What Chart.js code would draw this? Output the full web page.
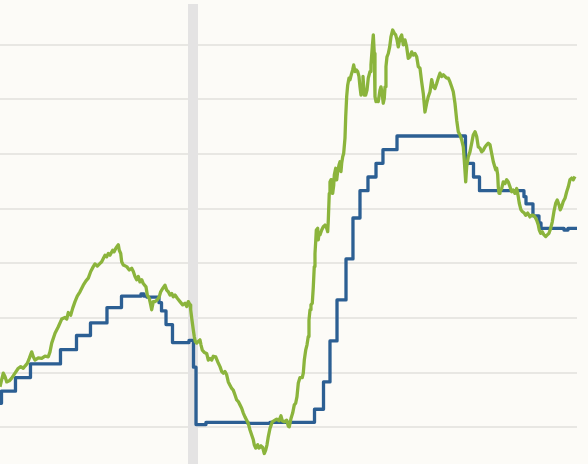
<!DOCTYPE html>
<html>
<head>
<meta charset="utf-8">
<script src="https://cdn.jsdelivr.net/npm/chart.js@4/dist/chart.umd.min.js"></script>
<style>
  html, body { margin: 0; padding: 0; background: #fcfbf7; }
  #wrap { width: 588px; height: 464px; position: relative; }
</style>
</head>
<body>
<div id="wrap"><canvas id="rates"></canvas></div>
<script>
// Policy rate (step series): date where each level starts, level in %
const blueYears = [2016.950, 2016.975, 2017.208, 2017.458, 2017.958, 2018.225, 2018.458, 2018.733, 2018.975,
  2019.300, 2019.350, 2019.400, 2019.600, 2019.642, 2019.717, 2019.825, 2020.100, 2020.175, 2020.217,
  2020.383, 2021.083, 2021.450, 2022.192, 2022.342, 2022.450, 2022.567, 2022.717, 2022.833, 2022.950,
  2023.083, 2023.217, 2023.333, 2023.567, 2024.708, 2024.842, 2024.942, 2025.683, 2025.717, 2025.833,
  2025.933, 2025.967, 2026.350, 2026.417, 2026.567];
const blueRates = [0.44, 0.66, 0.91, 1.16, 1.42, 1.68, 1.91, 2.19, 2.40,
  2.44, 2.40, 2.38, 2.28, 2.13, 1.88, 1.55, 1.59, 1.10, 0.05,
  0.09, 0.07, 0.09, 0.33, 0.83, 1.58, 2.33, 3.08, 3.83, 4.33,
  4.58, 4.83, 5.08, 5.33, 4.83, 4.58, 4.33, 4.22, 4.09, 3.87,
  3.74, 3.64, 3.61, 3.64, 3.64];

// Market yield (green)
const greenYears = [2016.950, 2016.978, 2017.005, 2017.033, 2017.062, 2017.105, 2017.145, 2017.200, 2017.255, 2017.295,
  2017.338, 2017.367, 2017.405, 2017.438, 2017.478, 2017.505, 2017.533, 2017.588, 2017.645, 2017.700,
  2017.755, 2017.783, 2017.812, 2017.867, 2017.922, 2017.978, 2018.033, 2018.062, 2018.088, 2018.128,
  2018.162, 2018.200, 2018.238, 2018.283, 2018.338, 2018.383, 2018.422, 2018.462, 2018.505, 2018.533,
  2018.572, 2018.617, 2018.645, 2018.672, 2018.700, 2018.728, 2018.755, 2018.783, 2018.828, 2018.850,
  2018.883, 2018.922, 2018.938, 2018.962, 2018.978, 2019.005, 2019.062, 2019.105, 2019.145, 2019.172,
  2019.200, 2019.228, 2019.255, 2019.283, 2019.312, 2019.338, 2019.383, 2019.405, 2019.438, 2019.462,
  2019.478, 2019.505, 2019.533, 2019.572, 2019.605, 2019.628, 2019.662, 2019.700, 2019.728, 2019.755,
  2019.783, 2019.812, 2019.838, 2019.867, 2019.905, 2019.950, 2019.995, 2020.033, 2020.062, 2020.088,
  2020.117, 2020.128, 2020.150, 2020.172, 2020.188, 2020.205, 2020.228, 2020.255, 2020.283, 2020.300,
  2020.322, 2020.355, 2020.395, 2020.422, 2020.450, 2020.478, 2020.505, 2020.545, 2020.578, 2020.617,
  2020.645, 2020.672, 2020.700, 2020.728, 2020.755, 2020.783, 2020.812, 2020.838, 2020.867, 2020.895,
  2020.922, 2020.950, 2020.978, 2021.005, 2021.033, 2021.062, 2021.088, 2021.117, 2021.145, 2021.172,
  2021.188, 2021.212, 2021.245, 2021.267, 2021.300, 2021.328, 2021.355, 2021.378, 2021.400, 2021.422,
  2021.450, 2021.488, 2021.533, 2021.562, 2021.600, 2021.633, 2021.655, 2021.688, 2021.728, 2021.755,
  2021.772, 2021.800, 2021.828, 2021.855, 2021.878, 2021.900, 2021.922, 2021.950, 2021.988, 2022.005,
  2022.022, 2022.045, 2022.067, 2022.088, 2022.100, 2022.117, 2022.133, 2022.155, 2022.172, 2022.188,
  2022.200, 2022.212, 2022.222, 2022.245, 2022.255, 2022.267, 2022.283, 2022.312, 2022.338, 2022.367,
  2022.395, 2022.412, 2022.422, 2022.438, 2022.450, 2022.467, 2022.478, 2022.495, 2022.512, 2022.522,
  2022.545, 2022.562, 2022.578, 2022.600, 2022.617, 2022.633, 2022.645, 2022.662, 2022.678, 2022.700,
  2022.712, 2022.728, 2022.745, 2022.767, 2022.783, 2022.812, 2022.828, 2022.845, 2022.867, 2022.888,
  2022.912, 2022.933, 2022.950, 2022.967, 2022.988, 2023.000, 2023.012, 2023.022, 2023.045, 2023.067,
  2023.088, 2023.117, 2023.133, 2023.155, 2023.172, 2023.188, 2023.200, 2023.217, 2023.238, 2023.255,
  2023.283, 2023.300, 2023.322, 2023.338, 2023.355, 2023.367, 2023.383, 2023.400, 2023.422, 2023.445,
  2023.467, 2023.495, 2023.522, 2023.545, 2023.567, 2023.588, 2023.617, 2023.645, 2023.672, 2023.700,
  2023.728, 2023.755, 2023.783, 2023.812, 2023.838, 2023.867, 2023.895, 2023.922, 2023.950, 2023.978,
  2024.005, 2024.033, 2024.062, 2024.088, 2024.117, 2024.145, 2024.172, 2024.200, 2024.228, 2024.255,
  2024.283, 2024.312, 2024.338, 2024.367, 2024.395, 2024.422, 2024.450, 2024.478, 2024.505, 2024.533,
  2024.562, 2024.588, 2024.617, 2024.645, 2024.672, 2024.688, 2024.712, 2024.728, 2024.755, 2024.783,
  2024.812, 2024.838, 2024.867, 2024.895, 2024.922, 2024.950, 2024.978, 2025.005, 2025.033, 2025.062,
  2025.088, 2025.117, 2025.145, 2025.172, 2025.188, 2025.212, 2025.228, 2025.245, 2025.255, 2025.267,
  2025.283, 2025.312, 2025.338, 2025.367, 2025.395, 2025.422, 2025.450, 2025.478, 2025.505, 2025.533,
  2025.562, 2025.588, 2025.605, 2025.633, 2025.655, 2025.688, 2025.712, 2025.745, 2025.783, 2025.812,
  2025.838, 2025.867, 2025.895, 2025.922, 2025.938, 2025.962, 2025.988, 2026.017, 2026.045, 2026.072,
  2026.100, 2026.128, 2026.155, 2026.183, 2026.212, 2026.238, 2026.267, 2026.288, 2026.312, 2026.338,
  2026.367, 2026.395, 2026.422, 2026.450, 2026.478, 2026.505, 2026.533];
const greenYields = [0.74, 0.87, 0.99, 0.93, 0.83, 0.85, 0.90, 0.99, 1.08, 1.11,
  1.08, 1.12, 1.17, 1.26, 1.38, 1.29, 1.23, 1.27, 1.26, 1.30,
  1.29, 1.38, 1.54, 1.72, 1.84, 1.98, 2.01, 1.98, 2.10, 2.05,
  2.18, 2.30, 2.40, 2.48, 2.60, 2.68, 2.73, 2.85, 2.94, 2.99,
  2.95, 3.00, 3.03, 3.09, 3.15, 3.12, 3.18, 3.15, 3.24, 3.21,
  3.28, 3.34, 3.24, 3.18, 3.03, 2.97, 2.94, 2.88, 2.91, 2.85,
  2.76, 2.70, 2.76, 2.66, 2.70, 2.63, 2.57, 2.42, 2.36, 2.24,
  2.15, 2.30, 2.30, 2.33, 2.39, 2.48, 2.54, 2.60, 2.51, 2.48,
  2.42, 2.45, 2.39, 2.42, 2.36, 2.30, 2.24, 2.27, 2.21, 2.30,
  2.24, 2.15, 1.96, 1.78, 1.66, 1.57, 1.54, 1.57, 1.60, 1.51,
  1.41, 1.37, 1.35, 1.23, 1.26, 1.23, 1.30, 1.29, 1.20, 1.11,
  1.02, 0.99, 1.02, 0.96, 0.83, 0.77, 0.71, 0.68, 0.59, 0.50,
  0.47, 0.41, 0.35, 0.26, 0.19, 0.13, 0.07, -0.05, -0.14, -0.23,
  -0.32, -0.38, -0.32, -0.38, -0.34, -0.37, -0.48, -0.42, -0.32, -0.17,
  -0.02, 0.10, 0.13, 0.15, 0.12, 0.21, 0.12, 0.10, 0.13, 0.02,
  0.01, 0.16, 0.26, 0.41, 0.44, 0.56, 0.81, 0.91, 0.91, 0.99,
  1.23, 1.41, 1.51, 1.66, 1.96, 2.15, 2.24, 2.27, 2.57, 2.94,
  3.18, 3.40, 3.61, 3.64, 3.43, 3.55, 3.52, 3.61, 3.67, 3.70,
  3.64, 3.58, 3.79, 4.28, 4.49, 4.53, 4.40, 4.28, 4.43, 4.62,
  4.74, 4.53, 4.68, 4.80, 4.86, 4.68, 4.83, 4.95, 5.01, 5.29,
  5.68, 6.05, 6.26, 6.39, 6.36, 6.48, 6.54, 6.63, 6.51, 6.54,
  6.51, 6.42, 6.23, 6.08, 6.26, 6.42, 6.23, 6.08, 6.08, 6.17,
  6.39, 6.51, 6.63, 6.96, 7.18, 6.84, 6.05, 5.96, 5.99, 5.96,
  6.17, 6.23, 6.08, 5.93, 6.02, 6.23, 6.60, 6.78, 6.84, 6.96,
  7.15, 7.27, 7.21, 7.18, 7.09, 6.96, 7.12, 7.18, 7.00, 7.09,
  6.96, 6.75, 6.78, 6.87, 6.81, 6.84, 6.78, 6.60, 6.57, 6.32,
  6.11, 5.77, 5.93, 6.05, 6.14, 6.36, 6.23, 6.20, 6.29, 6.39,
  6.48, 6.42, 6.45, 6.42, 6.39, 6.39, 6.32, 6.23, 6.14, 5.93,
  5.62, 5.41, 5.35, 5.26, 5.13, 4.89, 4.49, 4.77, 4.95, 5.04,
  5.20, 5.35, 5.41, 5.32, 5.13, 5.11, 5.04, 5.07, 5.13, 5.17,
  5.20, 5.17, 5.01, 4.86, 4.80, 4.71, 4.74, 4.62, 4.40, 4.28,
  4.31, 4.37, 4.49, 4.46, 4.53, 4.49, 4.40, 4.31, 4.34, 4.28,
  4.37, 4.22, 4.10, 3.98, 3.95, 3.92, 3.88, 3.92, 3.85, 3.88,
  3.88, 3.85, 3.79, 3.70, 3.61, 3.55, 3.58, 3.52, 3.49, 3.52,
  3.55, 3.64, 3.76, 3.95, 4.10, 4.16, 4.07, 3.98, 4.04, 4.13,
  4.19, 4.31, 4.40, 4.53, 4.56, 4.53, 4.59];

// horizontal gridlines and the shaded recession period
const gridValues = [0, 1, 2, 3, 4, 5, 6, 7];
const recessionStart = 2020.083;
const recessionEnd = 2020.25;

const toPoints = (xs, ys) => xs.map((x, i) => ({ x: x, y: ys[i] }));

// grey band behind the lines
const recessionBand = {
    id: 'recessionBand',
    beforeDatasetsDraw(chart) {
        const { ctx, chartArea, scales } = chart;
        const x0 = scales.x.getPixelForValue(recessionStart);
        const x1 = scales.x.getPixelForValue(recessionEnd);
        ctx.save();
        ctx.fillStyle = '#e4e3e3';
        ctx.fillRect(x0, chartArea.top, x1 - x0, chartArea.bottom - chartArea.top);
        ctx.restore();
    }
};

new Chart(document.getElementById('rates'), {
    type: 'line',
    data: {
        datasets: [
            {
                label: 'Yield',
                data: toPoints(greenYears, greenYields),
                borderColor: '#8bb43c',
                borderWidth: 3.3,
                pointRadius: 0,
                tension: 0,
                borderJoinStyle: 'round',
                order: 0
            },
            {
                label: 'Policy rate',
                data: toPoints(blueYears, blueRates),
                borderColor: '#2c5f93',
                borderWidth: 3.3,
                pointRadius: 0,
                stepped: 'before',
                borderJoinStyle: 'round',
                order: 1
            }
        ]
    },
    options: {
        responsive: true,
        maintainAspectRatio: false,
        animation: false,
        layout: { padding: { top: 4, right: 11, bottom: 0, left: 0 } },
        plugins: { legend: { display: false }, tooltip: { enabled: false } },
        scales: {
            x: {
                type: 'linear',
                display: false,
                min: 2016.95,
                max: 2026.567
            },
            y: {
                type: 'linear',
                min: -0.672,
                max: 7.746,
                border: { display: false },
                ticks: { display: false },
                grid: { color: '#e8e7e3', lineWidth: 2, drawTicks: false },
                afterBuildTicks: (scale) => {
                    scale.ticks = gridValues.map(v => ({ value: v }));
                }
            }
        }
    },
    plugins: [recessionBand]
});
</script>
</body>
</html>
